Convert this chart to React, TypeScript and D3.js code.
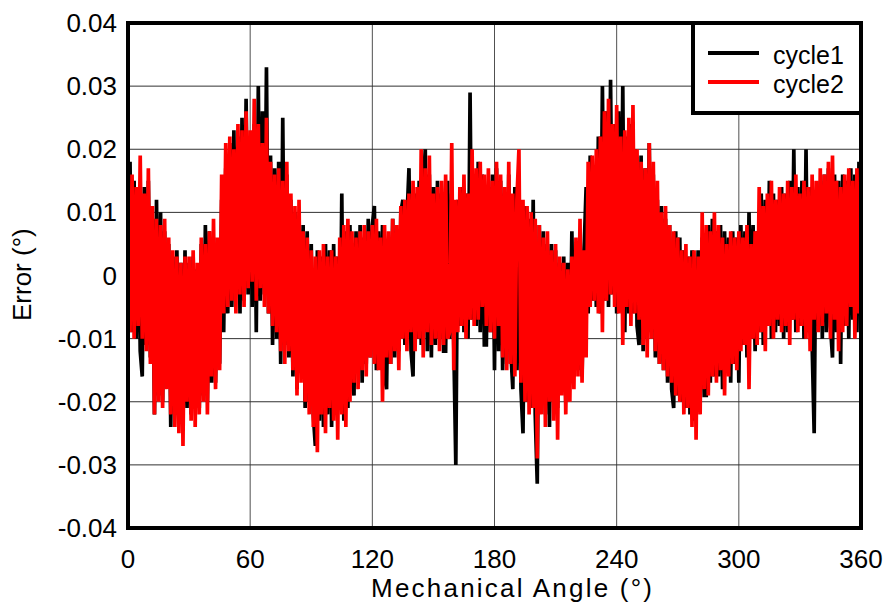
import React from "react";
import * as d3 from "d3";

// Error values in thousandths of a degree (m°), one sample per degree of mechanical angle (0..360)
const cycle1Milli: number[] = [
  -11, 18, -9, 15, -10, 13, -12, -16, 14, -11,
  15, -13, 9, -22, 12, -19, 10, -20, 7, -17,
  5, -24, 3, -22, 4, -23, 2, -24, 4, -21,
  2, -22, 3, -20, 1, -21, 5, -19, 8, -20,
  7, -17, 6, -17, 5, -14, 12, -9, 17, -6,
  21, -5, 23, -3, 22, -6, 25, -4, 28, -3,
  22, -5, 24, -9, 30, -4, 26, -3, 33, -6,
  19, -11, 17, -10, 18, -14, 25, -11, 16, -13,
  12, -16, 10, -18, 9, -15, 8, -21, 7, -20,
  5, -22, -27, 4, -23, 3, -24, 5, -22, 4,
  -24, 5, -21, 3, -20, 13, -23, 7, -21, 8,
  -16, -19, 7, -15, 8, -17, 6, -14, 9, -13,
  8, 11, -15, 7, -13, 8, -16, -18, 6, -14,
  9, -13, 7, -12, 10, 12, -11, 9, 17, -12,
  -16, 13, -10, 15, -11, 14, 20, -12, 16, -13,
  14, -11, 15, -10, 13, -12, -12, 15, -10, 13,
  -11, -30, 12, -8, 14, -9, 13, -10, 29, -7,
  15, -8, 18, -9, 16, -11, -11, 14, -9, 16,
  -15, 17, -12, 15, -15, 13, -14, 16, -12, -18,
  14, -15, 13, -18, -25, 11, -20, 9, -21, 12,
  -22, -33, 8, -20, 7, -22, 5, -24, 5, -19,
  4, -21, 2, -18, 3, -20, 2, -17, 7, -16,
  5, -15, 7, -16, 4, 14, -6, 19, -4, 17,
  -5, 22, -6, 30, -4, 26, -5, 31, -3, 24,
  -6, 26, -5, 30, -9, 22, -6, 24, -6, 20,
  -8, -11, 19, -12, 17, -10, 21, -9, 16, -13,
  12, -14, 11, -15, 9, -17, 8, -18, -21, 7,
  -19, 6, -20, 4, -21, 3, -22, 4, -23, -21,
  4, -20, 6, -19, -19, 8, -17, 9, -16, 7,
  -16, 8, -18, 7, -15, 6, -17, 7, -14, 6,
  -17, 8, -11, 7, -13, 10, -10, 8, -12, 7,
  -9, 13, -11, 12, -8, 15, -10, 13, -9, 12,
  -8, 14, -10, 13, -9, 15, -7, 20, -9, 14,
  -8, 15, -10, 20, -9, 14, -11, -25, 13, -8,
  15, -10, 16, -9, 17, -8, -13, 16, -9, 15,
  -14, 16, -8, 15, -10, 17, -7, 16, -9, 18,
  -6,
];

const cycle2Milli: number[] = [
  12, -9, 16, -10, 14, -8, 19, -10, 13, -12,
  17, -14, 11, -22, 9, -20, 8, -21, 9, -18,
  6, -22, 4, -24, 3, -25, 2, -27, 3, -20,
  3, -23, 4, -24, 2, -22, 6, -20, 5, -22,
  7, -16, 9, -18, 6, -15, 16, -6, 21, -5,
  22, -4, 20, -6, 24, -3, 23, -5, 26, -2,
  23, -1, 28, -4, 24, -2, 21, -5, 25, -6,
  18, -8, 16, -9, 17, -12, 15, -14, 18, -12,
  13, -15, 11, -19, 12, -17, 7, -20, 6, -22,
  4, -24, 3, -28, 4, -22, 5, -25, 3, -21,
  4, -23, 3, -26, 6, -22, 8, -24, 9, -20,
  7, -17, 6, -18, 7, -15, 8, -16, 7, -13,
  8, -14, 9, -15, 6, -20, 8, -13, 7, -14,
  9, -12, 8, -15, 11, -10, 12, -12, 13, -9,
  15, -12, 14, -10, 20, -13, 17, -9, 19, -11,
  13, -10, 14, -12, 15, -11, 16, -10, -9, 21,
  -15, 12, -9, 14, -8, 16, -10, 13, -7, 20,
  -8, 17, -7, 18, -5, 16, -8, 17, -9, 15,
  -10, 18, -8, 16, -13, 14, -15, 18, -14, 13,
  -16, 12, 20, -17, 12, -20, 11, -22, 10, -21,
  9, -29, 8, -22, 6, -24, 7, -20, 4, -23,
  5, -26, 3, -19, 2, -22, 1, -20, 3, -18,
  6, -16, 9, -17, 4, -13, 18, -5, 19, -4,
  20, -6, 22, -9, 26, -4, 28, -3, 24, -5,
  27, -6, 22, -11, 23, -5, 25, -8, 27, -6,
  20, -7, 18, -11, 17, -13, 21, -10, 18, -12,
  15, -14, 10, -15, 11, -16, 8, -17, 7, -19,
  6, -20, 4, -22, 5, -21, 3, -24, 4, -26,
  3, -22, 10, -18, 8, -19, 7, -16, 10, -17,
  8, -15, 6, -19, 5, -16, 7, -14, 6, -15,
  7, -12, 6, -11, 8, -18, 5, -10, 7, -11,
  14, -9, 11, -12, 13, -8, 15, -10, 12, -7,
  14, -9, 13, -8, 15, -11, 14, -7, 16, -9,
  13, -8, 15, -10, 14, -12, 16, -7, 15, -9,
  17, -8, 16, -6, 18, -10, 19, -7, 15, -12,
  14, -9, 16, -8, 17, -5, 15, -10, 17, -6,
  16,
];

const xTicks: number[] = [0, 60, 120, 180, 240, 300, 360];
const yTicks: number[] = [-0.04, -0.03, -0.02, -0.01, 0, 0.01, 0.02, 0.03, 0.04];
const yTickLabels: string[] = ["-0.04", "-0.03", "-0.02", "-0.01", "0", "0.01", "0.02", "0.03", "0.04"];
const seriesNames: string[] = ["cycle1", "cycle2"];
const seriesColors: string[] = ["#000000", "#ff0000"];

const W = 885;
const H = 603;
const L = 128;
const R = 861;
const T = 23;
const B = 528;
const FONT = "'Liberation Sans', Arial, Helvetica, sans-serif";

export default function App() {
  const x = d3.scaleLinear().domain([0, 360]).range([L, R]);
  const y = d3.scaleLinear().domain([-0.04, 0.04]).range([B, T]);

  const toPoints = (arr: number[]) => arr.map((v, i) => ({ a: i, e: v / 1000 }));
  const series = [toPoints(cycle1Milli), toPoints(cycle2Milli)];
  const line = d3
    .line<{ a: number; e: number }>()
    .x((d) => x(d.a))
    .y((d) => y(d.e));

  return (
    <svg
      width={W}
      height={H}
      style={{ position: "absolute", left: 0, top: 0, background: "#fff" }}
      fontFamily={FONT}
    >
      <defs>
        <clipPath id="plotClip">
          <rect x={L} y={T} width={R - L} height={B - T} />
        </clipPath>
      </defs>
      <rect x={0} y={0} width={W} height={H} fill="#fff" />
      {/* grid */}
      {xTicks.map((t) => (
        <line key={"gx" + t} x1={x(t)} x2={x(t)} y1={T} y2={B} stroke="#505050" strokeWidth={1} />
      ))}
      {yTicks.map((t) => (
        <line key={"gy" + t} x1={L} x2={R} y1={y(t)} y2={y(t)} stroke="#303030" strokeWidth={1} />
      ))}
      {/* series */}
      <g clipPath="url(#plotClip)">
        {series.map((s, i) => (
          <path
            key={seriesNames[i]}
            d={line(s) || ""}
            fill="none"
            stroke={seriesColors[i]}
            strokeWidth={3.7}
            strokeLinejoin="miter"
            strokeMiterlimit={2}
          />
        ))}
      </g>
      {/* frame */}
      <rect x={L} y={T} width={R - L} height={B - T} fill="none" stroke="#000" strokeWidth={4} />
      {/* y tick labels */}
      {yTicks.map((t, i) => (
        <text key={"yl" + t} x={117} y={y(t)} dy="0.35em" textAnchor="end" fontSize={26} fill="#000">
          {yTickLabels[i]}
        </text>
      ))}
      {/* x tick labels */}
      {xTicks.map((t) => (
        <text key={"xl" + t} x={x(t)} y={568} textAnchor="middle" fontSize={26} fill="#000">
          {String(t)}
        </text>
      ))}
      {/* axis titles */}
      <text x={371} y={597} fontSize={26} fill="#000" textLength={281} lengthAdjust="spacing">
        Mechanical Angle (°)
      </text>
      <text transform="translate(31,321) rotate(-90)" fontSize={26} fill="#000">
        Error (°)
      </text>
      {/* legend */}
      <g>
        <rect x={693} y={T} width={R - 693} height={90} fill="#fff" stroke="#000" strokeWidth={4} />
        {seriesNames.map((n, i) => (
          <g key={"lg" + n}>
            <line x1={708} x2={759} y1={53 + i * 29} y2={53 + i * 29} stroke={seriesColors[i]} strokeWidth={4} />
            <text x={773} y={64 + i * 29} fontSize={25} fill="#000">
              {n}
            </text>
          </g>
        ))}
      </g>
    </svg>
  );
}
